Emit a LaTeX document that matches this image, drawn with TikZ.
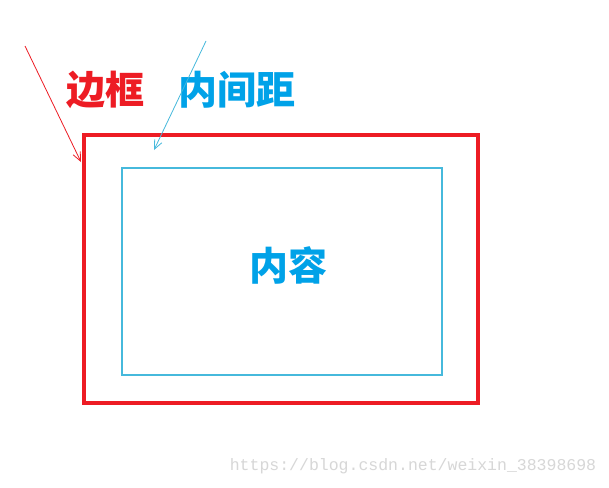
\documentclass[tikz,border=0pt]{standalone}
\usepackage{fontspec}
\newfontfamily\cjk{Noto Sans CJK SC}
\setmonofont{Liberation Mono}
\usetikzlibrary{arrows.meta}
\definecolor{bred}{RGB}{237,28,36}
\definecolor{bcyan}{RGB}{0,162,232}
\definecolor{lcyan}{RGB}{70,185,220}
\definecolor{wm}{RGB}{215,215,215}
\tikzset{
  lbl/.style={font=\cjk\bfseries\fontsize{39}{39}\selectfont, inner sep=0pt},
  pointer/.style={line width=0.8pt, -{Straight Barb[length=9pt,width=8pt]}},
}
\begin{document}
\begin{tikzpicture}[x=1pt,y=-1pt]
\useasboundingbox (0,0) rectangle (609,487);
\fill[white] (0,0) rectangle (609,487);
\draw[bred, line width=4pt] (84,135) rectangle (478,403);
\draw[lcyan, line width=1.3pt] (122,168) rectangle (442,375);
\node[lbl, text=bred] (border) at (105,90) {边框};
\node[lbl, text=bcyan] (padding) at (237,90) {内间距};
\node[lbl, text=bcyan] (content) at (288,265) {内容};
\coordinate (rs) at (25,46);
\coordinate (re) at (81,162);
\coordinate (cs) at (206,41);
\coordinate (ce) at (154,150);
\draw[pointer, bred] (rs) -- (re);
\draw[pointer, lcyan] (cs) -- (ce);
\node[font=\ttfamily\fontsize{16.5}{16.5}\selectfont, text=wm, inner sep=0pt] (wmk) at (413,466) {https://blog.csdn.net/weixin\_38398698};
\end{tikzpicture}
\end{document}
